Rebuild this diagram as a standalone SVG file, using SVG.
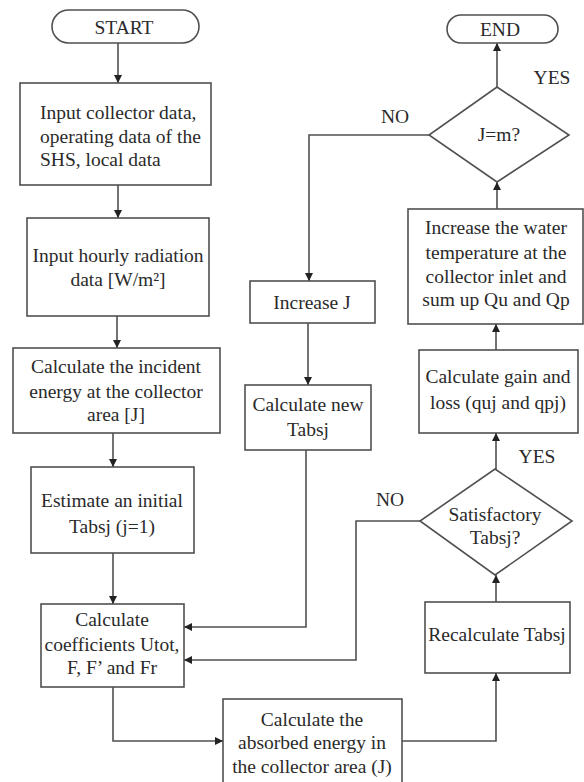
<svg xmlns="http://www.w3.org/2000/svg" width="584" height="782" viewBox="0 0 584 782">
<style>
.n{fill:#fff;stroke:#505050;stroke-width:1.6}
.t{font-family:'Liberation Serif','Times New Roman',serif;font-size:19.5px;fill:#2a2a2a;text-anchor:middle}
.l{text-anchor:start}
.c{fill:none;stroke:#505050;stroke-width:1.6}
</style>
<defs>
<marker id="a" viewBox="0 0 10 10" refX="10" refY="5" markerWidth="8" markerHeight="8" markerUnits="userSpaceOnUse" orient="auto">
<path d="M0,0L10,5L0,10z" fill="#222"/>
</marker>
</defs>
<rect width="584" height="782" fill="#fff"/>
<g id="connectors">
<path class="c" d="M118,43V83" marker-end="url(#a)"/>
<path class="c" d="M118,185V218" marker-end="url(#a)"/>
<path class="c" d="M117,316V348" marker-end="url(#a)"/>
<path class="c" d="M113,433V467" marker-end="url(#a)"/>
<path class="c" d="M113,553V604" marker-end="url(#a)"/>
<path class="c" d="M113,687V741H223" marker-end="url(#a)"/>
<path class="c" d="M402,741H496V673" marker-end="url(#a)"/>
<path class="c" d="M496,602V575" marker-end="url(#a)"/>
<path class="c" d="M496,469V433" marker-end="url(#a)"/>
<path class="c" d="M496,350V324" marker-end="url(#a)"/>
<path class="c" d="M497,209V182" marker-end="url(#a)"/>
<path class="c" d="M497,87V43" marker-end="url(#a)"/>
<path class="c" d="M429,135H309V281" marker-end="url(#a)"/>
<path class="c" d="M308,323V385" marker-end="url(#a)"/>
<path class="c" d="M306,450V627H184" marker-end="url(#a)"/>
<path class="c" d="M420,521H356V660H184" marker-end="url(#a)"/>
<text class="t" x="552" y="84">YES</text>
<text class="t" x="395" y="123">NO</text>
<text class="t" x="390" y="506">NO</text>
<text class="t" x="537" y="463">YES</text>
</g>
<g id="start">
<rect class="n" x="52" y="10" width="147" height="33" rx="16.5"/>
<text class="t" x="124" y="34" font-size="21">START</text>
</g>
<g id="input-collector">
<rect class="n" x="20" y="83" width="191" height="102"/>
<text class="t l" x="40" y="119">Input collector data,</text>
<text class="t l" x="40" y="143">operating data of the</text>
<text class="t l" x="40" y="166">SHS, local data</text>
</g>
<g id="input-radiation">
<rect class="n" x="27" y="218" width="182" height="98"/>
<text class="t" x="118" y="262">Input hourly radiation</text>
<text class="t" x="118" y="286">data [W/m²]</text>
</g>
<g id="incident-energy">
<rect class="n" x="13" y="348" width="207" height="85"/>
<text class="t" x="116" y="373">Calculate the incident</text>
<text class="t" x="116" y="398">energy at the collector</text>
<text class="t" x="116" y="421">area [J]</text>
</g>
<g id="estimate">
<rect class="n" x="31" y="467" width="163" height="86"/>
<text class="t" x="112" y="507">Estimate an initial</text>
<text class="t" x="112" y="533">Tabsj (j=1)</text>
</g>
<g id="coefficients">
<rect class="n" x="41" y="604" width="143" height="83"/>
<text class="t" x="112" y="626">Calculate</text>
<text class="t" x="112" y="651">coefficients Utot,</text>
<text class="t" x="112" y="674">F, F’ and Fr</text>
</g>
<g id="absorbed">
<rect class="n" x="223" y="699" width="179" height="90"/>
<text class="t" x="312" y="726">Calculate the</text>
<text class="t" x="312" y="749">absorbed energy in</text>
<text class="t" x="312" y="773">the collector area (J)</text>
</g>
<g id="recalculate">
<rect class="n" x="425" y="602" width="145" height="71"/>
<text class="t" x="497" y="641">Recalculate Tabsj</text>
</g>
<g id="satisfactory">
<path class="n" d="M495,469L572,521L495,575L420,521Z"/>
<text class="t" x="495" y="521">Satisfactory</text>
<text class="t" x="495" y="544">Tabsj?</text>
</g>
<g id="gain-loss">
<rect class="n" x="419" y="350" width="159" height="83"/>
<text class="t" x="498" y="383">Calculate gain and</text>
<text class="t" x="498" y="409">loss (quj and qpj)</text>
</g>
<g id="increase-water">
<rect class="n" x="408" y="209" width="175" height="115"/>
<text class="t" x="496" y="234">Increase the water</text>
<text class="t" x="496" y="259">temperature at the</text>
<text class="t" x="496" y="283">collector inlet and</text>
<text class="t" x="496" y="306">sum up Qu and Qp</text>
</g>
<g id="j-equals-m">
<path class="n" d="M497,87L569,135L497,182L429,135Z"/>
<text class="t" x="499" y="141">J=m?</text>
</g>
<g id="end">
<rect class="n" x="447" y="15" width="111" height="28" rx="14"/>
<text class="t" x="500" y="36" font-size="20.5">END</text>
</g>
<g id="increase-j">
<rect class="n" x="250" y="281" width="125" height="42"/>
<text class="t" x="312" y="309">Increase J</text>
</g>
<g id="new-tabsj">
<rect class="n" x="245" y="385" width="126" height="65"/>
<text class="t" x="308" y="411">Calculate new</text>
<text class="t" x="308" y="436">Tabsj</text>
</g>
</svg>
